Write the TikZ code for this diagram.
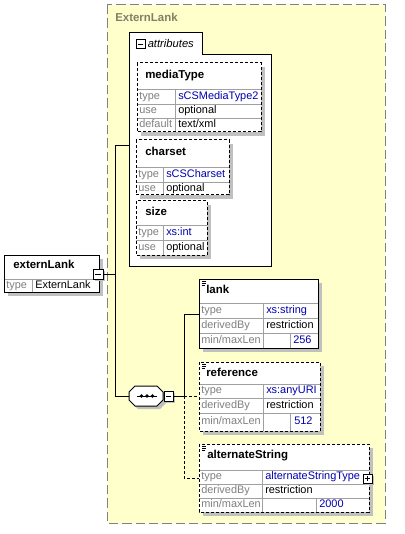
\documentclass[tikz,border=0pt]{standalone}
\usepackage{fontspec}
\setmainfont{Liberation Sans}
\definecolor{ylwc}{HTML}{FFFFCC}
\definecolor{framec}{HTML}{808080}
\definecolor{ttlc}{HTML}{808066}
\definecolor{lblc}{HTML}{808080}
\definecolor{valc}{HTML}{0000B0}
\definecolor{gridc}{HTML}{A0A0A0}
\definecolor{shdc}{HTML}{C0C0C0}
\tikzset{
 txt/.style={anchor=west, inner sep=0pt, text height=5.8pt, text depth=1.6pt, font=\fontsize{8.2}{9.8}\selectfont},
 lbl/.style={txt, text=lblc},
 val/.style={txt, text=valc},
 pln/.style={txt, text=black},
 ttl/.style={txt, font=\bfseries\fontsize{8.6}{10}\selectfont},
 ebord/.style={draw=black, line width=0.75pt},
 optb/.style={dash pattern=on 2.25pt off 1.5pt},
 gridl/.style={draw=gridc, line width=0.6pt},
 conn/.style={draw=black, line width=0.75pt},
 optconn/.style={conn, dash pattern=on 2.25pt off 1.5pt},
}
\newcommand\ShBox[4]{\fill[shdc] (#1+4,#2+4) rectangle (#3+4,#4+4); \fill[white] (#1,#2) rectangle (#3,#4);}
\newcommand\MiniBox[4]{\fill[shdc] (#1+2,#2+2) rectangle (#3+2,#4+2); \draw[fill=white, line width=0.75pt] (#1,#2) rectangle (#3,#4);}
\newcommand\IconLines[2]{\draw[line width=0.6pt] (#1,#2) -- (#1+4,#2) (#1,#2+1.7) -- (#1+4,#2+1.7) (#1,#2+3.4) -- (#1+3,#2+3.4);}
\begin{document}
\begin{tikzpicture}[x=0.75pt,y=-0.75pt]
\useasboundingbox (0,0) rectangle (404,534);
\fill[white] (0,0) rectangle (404,534);
% type container
\draw[framec, line width=0.75pt, dash pattern=on 7pt off 3pt, fill=ylwc] (107,5) rectangle (385,523);
\node[ttl, text=ttlc] (ctitle) at (115,19) {ExternLank};
% attributes container
\draw[fill=white, line width=0.75pt] (129,33) -- (202,33) -- (202,55) -- (271,55) -- (271,266) -- (129,266) -- cycle;
\draw[line width=0.75pt, fill=white] (136,40) rectangle (145,49);
\draw[line width=0.75pt] (138,44.5) -- (143,44.5);
\node[txt, font=\itshape\fontsize{8.4}{10}\selectfont] (attrs) at (147.5,44.5) {attributes};
% mediaType
\ShBox{137}{63}{261}{132}
\draw[gridl] (137,89) -- (261,89) (137,104) -- (261,104) (137,118) -- (261,118) (175,89) -- (175,132);
\draw[ebord, optb] (137,63) rectangle (261,132);
\node[ttl] (mt) at (145,76) {mediaType};
\node[lbl] (mt1) at (139,96.5) {type};
\node[val] (mt2) at (178,96.5) {sCSMediaType2};
\node[lbl] (mt3) at (139,111) {use};
\node[pln] (mt4) at (178,111) {optional};
\node[lbl] (mt5) at (139,125) {default};
\node[pln] (mt6) at (178,125) {text/xml};
% charset
\ShBox{136}{140}{229}{195}
\draw[gridl] (136,167) -- (229,167) (136,182) -- (229,182) (163,167) -- (163,195);
\draw[ebord, optb] (136,140) rectangle (229,195);
\node[ttl] (cs) at (145,153) {charset};
\node[lbl] (cs1) at (138,174.5) {type};
\node[val] (cs2) at (166,174.5) {sCSCharset};
\node[lbl] (cs3) at (138,188.5) {use};
\node[pln] (cs4) at (166,188.5) {optional};
% size
\ShBox{136}{201}{207}{255}
\draw[gridl] (136,225) -- (207,225) (136,240) -- (207,240) (163,225) -- (163,255);
\draw[ebord, optb] (136,201) rectangle (207,255);
\node[ttl] (sz) at (145,213) {size};
\node[lbl] (sz1) at (138,232.5) {type};
\node[val] (sz2) at (166,232.5) {xs:int};
\node[lbl] (sz3) at (138,247.5) {use};
\node[pln] (sz4) at (166,247.5) {optional};
% externLank element
\ShBox{4}{255}{99}{292}
\draw[gridl] (4,279) -- (99,279) (32,279) -- (32,292);
\draw[ebord] (4,255) rectangle (99,292);
\node[ttl] (el) at (13,266) {externLank};
\node[lbl] (el1) at (6,285.5) {type};
\node[pln] (el2) at (35,285.5) {ExternLank};
\MiniBox{93}{269}{103}{279}
\draw[line width=0.75pt] (95,274) -- (101,274);
% connectors
\coordinate (elOut) at (103,274);
\coordinate (trunkJ) at (115,274);
\coordinate (trunkTop) at (115,146);
\coordinate (trunkBot) at (115,396);
\coordinate (attrIn) at (129,146);
\coordinate (seqIn) at (129,396);
\draw[conn] (elOut) -- (trunkJ);
\draw[conn] (trunkTop) -- (trunkBot);
\draw[conn] (trunkTop) -- (attrIn);
\draw[conn] (trunkBot) -- (seqIn);
% sequence compositor
\fill[shdc] (135+3,386+3) -- (157+3,386+3) -- (163+3,392+3) -- (163+3,400+3) -- (157+3,406+3) -- (135+3,406+3) -- (129+3,400+3) -- (129+3,392+3) -- cycle;
\draw[fill=white, line width=0.75pt] (135,386) -- (157,386) -- (163,392) -- (163,400) -- (157,406) -- (135,406) -- (129,400) -- (129,392) -- cycle;
\draw[line width=0.75pt] (137,396) -- (157,396);
\fill (141.5,396) circle (1.9) (147,396) circle (1.9) (152.5,396) circle (1.9);
\MiniBox{164}{391}{173}{401}
\draw[line width=0.75pt] (166,396) -- (171,396);
\coordinate (seqOut) at (173,396);
\coordinate (seqJ) at (184,396);
\coordinate (lankJ) at (184,314);
\coordinate (lankIn) at (199,314);
\coordinate (refIn) at (199,396);
\coordinate (altJ) at (184,478);
\coordinate (altIn) at (199,478);
\draw[conn] (seqOut) -- (seqJ) -- (lankJ) -- (lankIn);
\draw[optconn] (seqJ) -- (refIn);
\draw[optconn] (seqJ) -- (altJ) -- (altIn);
% lank
\ShBox{199}{279}{318}{348}
\draw[gridl] (199,303) -- (318,303) (199,318) -- (318,318) (199,333) -- (318,333) (263,303) -- (263,348) (290,333) -- (290,348);
\draw[ebord] (199,279) rectangle (318,348);
\IconLines{202}{281.5}
\node[ttl] (lk) at (206,291) {lank};
\node[lbl] (lk1) at (201,310.5) {type};
\node[val] (lk2) at (266,310.5) {xs:string};
\node[lbl] (lk3) at (201,325.5) {derivedBy};
\node[pln] (lk4) at (266,325.5) {restriction};
\node[lbl] (lk5) at (201,340.5) {min/maxLen};
\node[val] (lk6) at (293,340.5) {256};
% reference
\ShBox{199}{362}{320}{431}
\draw[gridl] (199,384) -- (320,384) (199,398) -- (320,398) (199,413) -- (320,413) (263,384) -- (263,431) (290,413) -- (290,431);
\draw[ebord, optb] (199,362) rectangle (320,431);
\IconLines{202}{364.5}
\node[ttl] (rf) at (206,374) {reference};
\node[lbl] (rf1) at (201,391) {type};
\node[val] (rf2) at (266,391) {xs:anyURI};
\node[lbl] (rf3) at (201,405.5) {derivedBy};
\node[pln] (rf4) at (266,405.5) {restriction};
\node[lbl] (rf5) at (201,422) {min/maxLen};
\node[val] (rf6) at (294,422) {512};
% alternateString
\ShBox{199}{444}{369}{512}
\draw[gridl] (199,470) -- (369,470) (199,484) -- (369,484) (199,498) -- (369,498) (262,470) -- (262,512) (316,498) -- (316,512);
\draw[ebord, optb] (199,444) rectangle (369,512);
\IconLines{202}{446.5}
\node[ttl] (as) at (207,456) {alternateString};
\node[lbl] (as1) at (201,477) {type};
\node[val] (as2) at (265,477) {alternateStringType};
\node[lbl] (as3) at (201,491) {derivedBy};
\node[pln] (as4) at (265,491) {restriction};
\node[lbl] (as5) at (201,505) {min/maxLen};
\node[val] (as6) at (319,505) {2000};
\MiniBox{363}{474}{372}{483}
\draw[line width=0.75pt] (365,478.5) -- (370,478.5) (367.5,476) -- (367.5,481);
\end{tikzpicture}
\end{document}
